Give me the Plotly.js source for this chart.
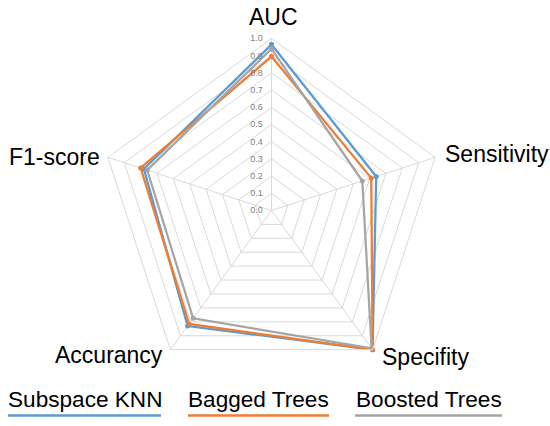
<!DOCTYPE html>
<html>
<head>
<meta charset="utf-8">
<script src="https://cdn.plot.ly/plotly-3.0.1.min.js"></script>
<style>html,body{margin:0;padding:0;background:#fff;}#chart{width:550px;height:426px;}</style>
</head>
<body>
<div id="chart"></div>
<script>
const categories = ["AUC", "Sensitivity", "Specifity", "Accurancy", "F1-score"];
const seriesNames = ["Subspace KNN", "Bagged Trees", "Boosted Trees"];
const subspaceKNN = [0.965, 0.64, 1.0, 0.83, 0.78];
const baggedTrees = [0.895, 0.61, 1.0, 0.815, 0.80];
const boostedTrees = [0.94, 0.555, 0.99, 0.775, 0.76];
const radialTicks = [0, 0.1, 0.2, 0.3, 0.4, 0.5, 0.6, 0.7, 0.8, 0.9, 1.0];

const colors = ["#5B9BD5", "#ED7D31", "#A5A5A5"];
const values = [subspaceKNN, baggedTrees, boostedTrees];

const traces = values.map((v, i) => ({
  type: "scatterpolar",
  r: v.concat([v[0]]),
  theta: categories.concat([categories[0]]),
  mode: "lines+markers",
  name: seriesNames[i],
  line: {color: colors[i], width: 2.25},
  marker: {color: colors[i], size: 5},
  showlegend: false
}));

const font = "Liberation Sans, Arial, sans-serif";
const W = 550, H = 426;

// category label placement (pixel anchors in the page)
const catLabelPos = [
  {x: 273, y: 17.5, xa: "center"},
  {x: 443, y: 153.5, xa: "left"},
  {x: 380, y: 357, xa: "left"},
  {x: 165, y: 355, xa: "right"},
  {x: 102, y: 157, xa: "right"}
];
const catAnnotations = categories.map((c, i) => ({
  text: c, xref: "paper", yref: "paper",
  x: catLabelPos[i].x / W, y: (H - catLabelPos[i].y) / H,
  xanchor: catLabelPos[i].xa, yanchor: "middle", showarrow: false,
  font: {family: font, size: 23, color: "#000"}
}));

const legendX = [[8, 161], [188, 329], [355, 502]];
const legendAnnotations = seriesNames.map((n, i) => ({
  text: n, xref: "paper", yref: "paper",
  x: (legendX[i][0] + legendX[i][1]) / 2 / W, y: (H - 399) / H,
  xanchor: "center", yanchor: "middle", showarrow: false,
  font: {family: font, size: 22.6, color: "#000"}
}));
const shapes = seriesNames.map((n, i) => ({
  type: "line", xref: "paper", yref: "paper",
  x0: legendX[i][0] / W, x1: legendX[i][1] / W,
  y0: (H - 415.5) / H, y1: (H - 415.5) / H,
  line: {color: colors[i], width: 2.7}
}));

const layout = {
  width: W, height: H,
  margin: {l: 0, r: 0, t: 0, b: 0},
  paper_bgcolor: "#fff",
  font: {family: font},
  showlegend: false,
  polar: {
    domain: {x: [99.5 / W, 443.5 / W], y: [43.5 / H, 387.5 / H]},
    bgcolor: "#fff",
    gridshape: "linear",
    radialaxis: {
      range: [0, 1],
      tickvals: radialTicks,
      ticktext: radialTicks.map(t => t.toFixed(1)),
      angle: 90,
      tickangle: 90,
      side: "counterclockwise",
      showline: false,
      ticks: "outside",
      ticklen: 5,
      tickcolor: "rgba(0,0,0,0)",
      gridcolor: "#d9d9d9",
      gridwidth: 1,
      tickfont: {family: font, size: 9, color: "#7f7f7f"}
    },
    angularaxis: {
      rotation: 90,
      direction: "clockwise",
      linecolor: "#d9d9d9",
      gridcolor: "#d9d9d9",
      ticks: "",
      showticklabels: false
    }
  },
  annotations: catAnnotations.concat(legendAnnotations),
  shapes: shapes
};

Plotly.newPlot("chart", traces, layout, {displayModeBar: false, staticPlot: true});
</script>
</body>
</html>
